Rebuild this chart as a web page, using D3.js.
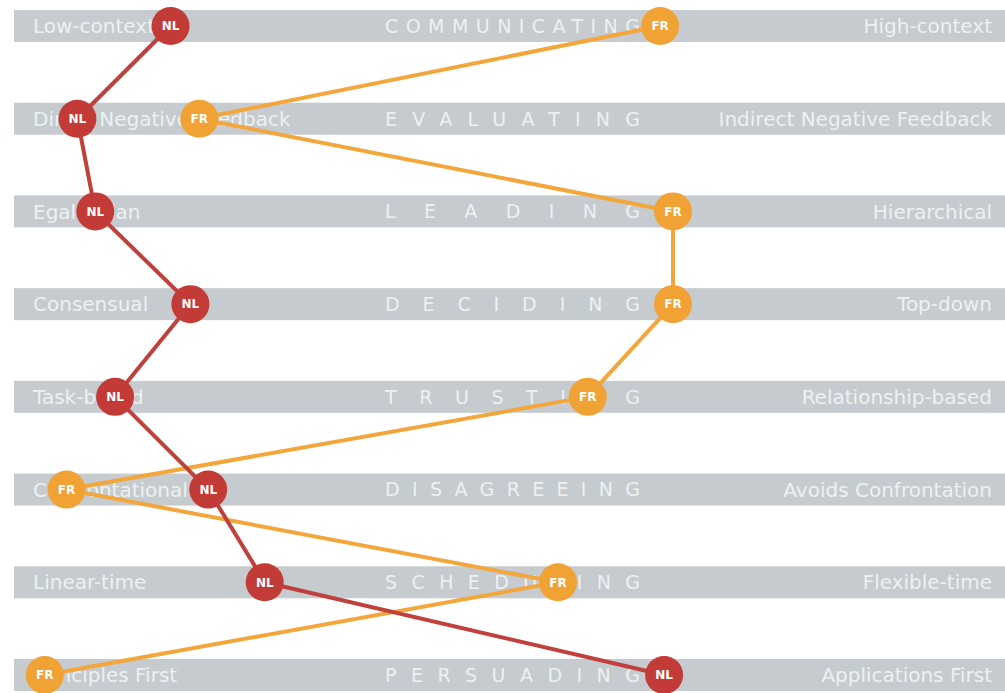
<!DOCTYPE html>
<html>
<head>
<meta charset="utf-8">
<script src="https://cdn.jsdelivr.net/npm/d3@7"></script>
<style>
  body { margin: 0; background: #fff; }
  svg { display: block; }
  .side { font-family: "DejaVu Sans", sans-serif; font-size: 20px; fill: #eef1f2; }
  .scale { font-family: "DejaVu Sans", sans-serif; font-size: 19px; fill: #eef1f2; }
  .tag { font-family: "DejaVu Sans", sans-serif; font-size: 12px; font-weight: bold; fill: #fff; }
</style>
</head>
<body>
<script>
// culture map scales, top to bottom
var scales = ["COMMUNICATING", "EVALUATING", "LEADING", "DECIDING", "TRUSTING", "DISAGREEING", "SCHEDULING", "PERSUADING"];
var leftLabels = ["Low-context", "Direct Negative Feedback", "Egalitarian", "Consensual", "Task-based", "Confrontational", "Linear-time", "Principles First"];
var rightLabels = ["High-context", "Indirect Negative Feedback", "Hierarchical", "Top-down", "Relationship-based", "Avoids Confrontation", "Flexible-time", "Applications First"];

// position on each scale, 0 = left pole, 100 = right pole
var nlValues = [15.8, 6.4, 8.2, 17.8, 10.2, 19.6, 25.3, 65.6];
var frValues = [65.2, 18.7, 66.5, 66.5, 57.9, 5.3, 54.9, 3.1];

var countries = [
  { code: "NL", values: nlValues, color: "#c23b36", line: "#c0403b" },
  { code: "FR", values: frValues, color: "#f0a234", line: "#f2a63c" }
];

var width = 1005, height = 693;

var svg = d3.select("body").append("svg")
  .attr("width", width)
  .attr("height", height);

// row centres
var y = d3.scalePoint()
  .domain(scales)
  .range([26, 675]);

var x = d3.scaleLinear()
  .domain([0, 100])
  .range([14, 1005]);

var barH = 32;

// grey bands
svg.selectAll("rect.band")
  .data(scales)
  .enter().append("rect")
  .attr("class", "band")
  .attr("x", x(0))
  .attr("y", function (d) { return y(d) - barH / 2; })
  .attr("width", x(100) - x(0))
  .attr("height", barH)
  .attr("fill", "#c5cbce");

svg.selectAll("text.left")
  .data(leftLabels)
  .enter().append("text")
  .attr("class", "side")
  .attr("x", 33)
  .attr("y", function (d, i) { return y(scales[i]); })
  .attr("dy", "0.36em")
  .text(function (d) { return d; });

svg.selectAll("text.right")
  .data(rightLabels)
  .enter().append("text")
  .attr("class", "side")
  .attr("x", 992)
  .attr("text-anchor", "end")
  .attr("y", function (d, i) { return y(scales[i]); })
  .attr("dy", "0.36em")
  .text(function (d) { return d; });

svg.selectAll("text.scale")
  .data(scales)
  .enter().append("text")
  .attr("class", "scale")
  .attr("x", 385)
  .attr("y", function (d) { return y(d); })
  .attr("dy", "0.36em")
  .attr("textLength", 255)
  .attr("lengthAdjust", "spacing")
  .text(function (d) { return d; });

var line = d3.line()
  .x(function (d) { return x(d); })
  .y(function (d, i) { return y(scales[i]); });

// lines first, FR under NL
countries.slice().reverse().forEach(function (c) {
  svg.append("path")
    .datum(c.values)
    .attr("fill", "none")
    .attr("stroke", c.line)
    .attr("stroke-width", 4)
    .attr("stroke-linejoin", "round")
    .attr("d", line);
});

countries.forEach(function (c) {
  var g = svg.selectAll("g.dot-" + c.code)
    .data(c.values)
    .enter().append("g")
    .attr("class", "dot-" + c.code)
    .attr("transform", function (d, i) { return "translate(" + x(d) + "," + y(scales[i]) + ")"; });
  g.append("circle")
    .attr("r", 19)
    .attr("fill", c.color);
  g.append("text")
    .attr("class", "tag")
    .attr("text-anchor", "middle")
    .attr("dy", "0.36em")
    .text(c.code);
});
</script>
</body>
</html>
